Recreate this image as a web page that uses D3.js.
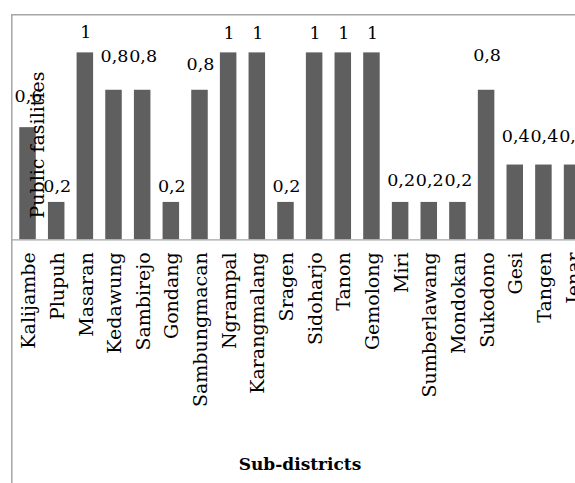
<!DOCTYPE html>
<html>
<head>
<meta charset="utf-8">
<script src="https://cdn.jsdelivr.net/npm/d3@7"></script>
<style>
  html, body { margin: 0; padding: 0; background: #fff; }
  svg { display: block; }
  text { font-family: "DejaVu Serif", serif; fill: #000; }
</style>
</head>
<body>
<svg id="chart" width="575" height="483"></svg>
<script>
// Sub-districts and their public facility scores
const subDistricts = ["Kalijambe", "Plupuh", "Masaran", "Kedawung", "Sambirejo", "Gondang",
  "Sambungmacan", "Ngrampal", "Karangmalang", "Sragen", "Sidoharjo", "Tanon", "Gemolong",
  "Miri", "Sumberlawang", "Mondokan", "Sukodono", "Gesi", "Tangen", "Jenar"];
const facilityScores = [0.6, 0.2, 1, 0.8, 0.8, 0.2, 0.8, 1, 1, 0.2, 1, 1, 1,
  0.2, 0.2, 0.2, 0.8, 0.4, 0.4, 0.4];
// distance (px) between each bar top and its value label baseline
const labelGap = [25, 10, 14, 28, 28, 10, 20, 13, 13, 10, 13, 13, 13, 16, 16, 16, 29, 23, 23, 23];

const yAxisTitle = "Public fasilities";
const xAxisTitle = "Sub-districts";

const svg = d3.select("#chart");
const frameColor = "#a6a6a6";
const barColor = "#5f5f5f";

const x = d3.scaleBand()
  .domain(subDistricts)
  .range([13.2, 586.4])
  .paddingInner(0.424)
  .paddingOuter(0.212);

const y = d3.scaleLinear()
  .domain([0, 1.2])
  .range([239.3, 15]);

const fmt = v => String(v).replace(".", ",");

// frame lines
svg.append("line")
  .attr("x1", 11.5).attr("x2", 575).attr("y1", 14.8).attr("y2", 14.8)
  .attr("stroke", frameColor).attr("stroke-width", 1.5);
svg.append("line")
  .attr("x1", 11.8).attr("x2", 11.8).attr("y1", 14).attr("y2", 483)
  .attr("stroke", frameColor).attr("stroke-width", 1.5);

// bars
svg.append("g").selectAll("rect")
  .data(subDistricts)
  .join("rect")
  .attr("x", d => x(d))
  .attr("width", x.bandwidth())
  .attr("y", (d, i) => y(facilityScores[i]))
  .attr("height", (d, i) => y(0) - y(facilityScores[i]))
  .attr("fill", barColor);

// baseline
svg.append("line")
  .attr("x1", 11.5).attr("x2", 575).attr("y1", y(0) + 0.5).attr("y2", y(0) + 0.5)
  .attr("stroke", frameColor).attr("stroke-width", 1.3);

// value labels
svg.append("g").selectAll("text")
  .data(subDistricts)
  .join("text")
  .attr("x", d => x(d) + x.bandwidth() / 2 + 1)
  .attr("y", (d, i) => y(facilityScores[i]) - labelGap[i])
  .attr("text-anchor", "middle")
  .attr("font-size", 17.5)
  .text((d, i) => fmt(facilityScores[i]));

// category labels (rotated)
const xAxis = d3.axisBottom(x).tickSize(0).tickPadding(0);
const gx = svg.append("g").attr("transform", `translate(0,${y(0)})`).call(xAxis);
gx.select(".domain").remove();
gx.selectAll(".tick text")
  .attr("font-family", "DejaVu Serif, serif")
  .attr("font-size", 19)
  .attr("fill", "#000")
  .attr("text-anchor", "end")
  .attr("transform", "translate(1,13) rotate(-90)")
  .attr("x", 0)
  .attr("y", 0)
  .attr("dy", "0.35em");

// axis titles
svg.append("text")
  .attr("transform", "translate(37.5,145) rotate(-90)")
  .attr("text-anchor", "middle")
  .attr("dy", "0.35em")
  .attr("font-size", 19)
  .text(yAxisTitle);

svg.append("text")
  .attr("x", 300)
  .attr("y", 470)
  .attr("text-anchor", "middle")
  .attr("font-size", 17)
  .attr("font-weight", "bold")
  .text(xAxisTitle);
</script>
</body>
</html>
